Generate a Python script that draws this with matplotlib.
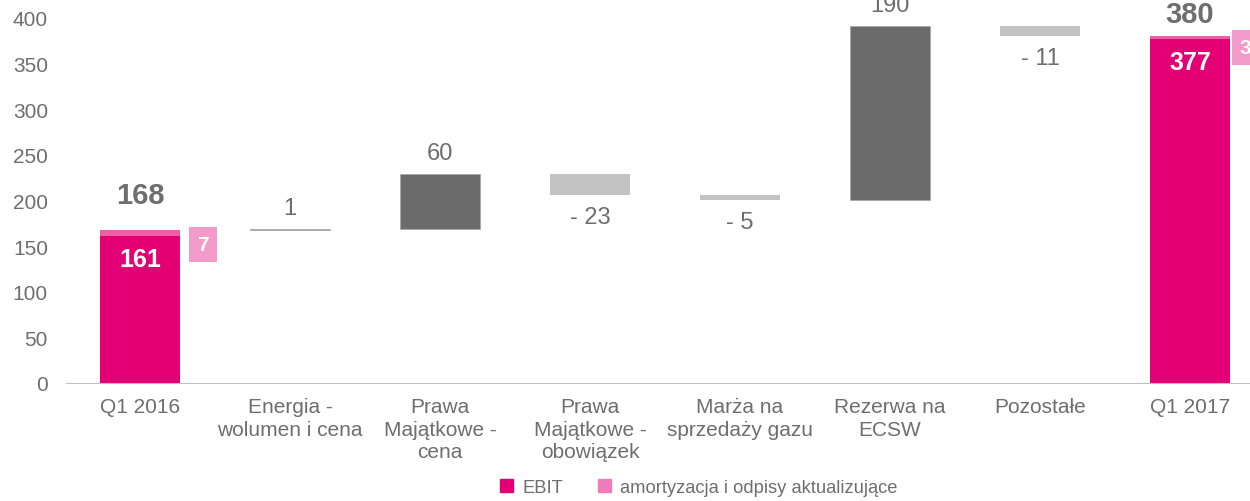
import numpy as np
import matplotlib.pyplot as plt
from matplotlib.patches import Patch

plt.rcParams['font.family'] = ['Liberation Sans', 'DejaVu Sans']

# data
categories = ['Q1 2016', 'Energia -\nwolumen i cena', 'Prawa\nMajątkowe -\ncena',
              'Prawa\nMajątkowe -\nobowiązek', 'Marża na\nsprzedaży gazu',
              'Rezerwa na\nECSW', 'Pozostałe', 'Q1 2017']
ebit = [161, 377]          # Q1 2016, Q1 2017
amort = [7, 3]             # amortyzacja i odpisy
deltas = [1, 60, -23, -5, 190, -11]
delta_labels = ['1', '60', '- 23', '- 5', '190', '- 11']

magenta = '#E20074'
pink_stripe = '#EE5FA7'
pink_box = '#F29AC9'
dark = '#6B6B6B'
light = '#C3C3C3'
txt = '#6E6E6E'

fig = plt.figure(figsize=(12.5, 5.02), dpi=100)
ax = fig.add_axes([66 / 1250, 118 / 502, 1 - 66 / 1250, 384 / 502])

x = np.arange(len(categories))
w = 0.535

# totals (start / end)
tot_idx = [0, len(categories) - 1]
tot_off = [15, 6]
box_off = [16.5, 11]
for i, e, a, off, bo in zip(tot_idx, ebit, amort, tot_off, box_off):
    ax.bar(x[i], e, w, color=magenta, zorder=2)
    ax.bar(x[i], a, w, bottom=e, color=pink_stripe, zorder=2)
    ax.annotate(str(e + a), (x[i], e + a), xytext=(0, off), textcoords='offset points',
                ha='center', va='bottom', fontsize=21, fontweight='bold', color=txt)
    ax.annotate(str(e), (x[i], e), xytext=(0, -8), textcoords='offset points',
                ha='center', va='top', fontsize=18, fontweight='bold', color='white')
    ax.annotate(str(a), (x[i] + w / 2, e), xytext=(bo, -6), textcoords='offset points',
                ha='center', va='center', fontsize=15, fontweight='bold', color='white',
                bbox=dict(boxstyle='square,pad=0.38', fc=pink_box, ec='none'))

# changes
run = ebit[0] + amort[0]
for j, (d, lab) in enumerate(zip(deltas, delta_labels)):
    i = j + 1
    if d >= 0:
        col = dark if d > 1 else '#9A9A9A'
        ax.bar(x[i], d, w, bottom=run, color=col, edgecolor='#A8A8A8', linewidth=0.6, zorder=2)
        ax.annotate(lab, (x[i], run + d), xytext=(0, 7), textcoords='offset points',
                    ha='center', va='bottom', fontsize=17, color=txt)
    else:
        ax.bar(x[i], -d, w, bottom=run + d, color=light, zorder=2)
        ax.annotate(lab, (x[i], run + d), xytext=(0, -8), textcoords='offset points',
                    ha='center', va='top', fontsize=17, color=txt)
    run += d

ax.set_xlim(-0.493, 7.4)
ax.set_ylim(0, 420.8)
ax.set_yticks(np.arange(0, 401, 50))
ax.set_xticks(x)
ax.set_xticklabels(categories, fontsize=15, color=txt, linespacing=1.25)
ax.tick_params(axis='y', length=0, pad=13, labelsize=15, labelcolor=txt)
ax.tick_params(axis='x', length=0, pad=10)
for s in ['top', 'right', 'left']:
    ax.spines[s].set_visible(False)
ax.spines['bottom'].set_color('#BFBFBF')

handles = [Patch(color=magenta, label='EBIT'),
           Patch(color='#F07DB9', label='amortyzacja i odpisy aktualizujące')]
fig.legend(handles=handles, loc='center', bbox_to_anchor=(0.559, 0.027), ncol=2,
           frameon=False, fontsize=13.2, handlelength=0.7, handleheight=0.7,
           handletextpad=0.5, columnspacing=1.9, labelcolor=txt,
           borderpad=0, borderaxespad=0)

fig.savefig('out.png', dpi=100)
